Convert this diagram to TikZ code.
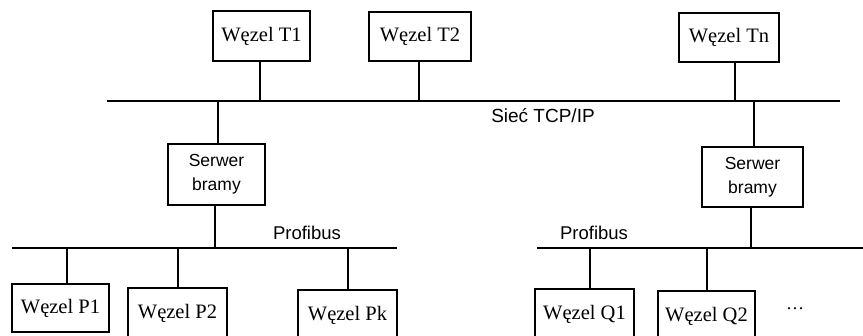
\documentclass[tikz,border=0pt]{standalone}
\usepackage{fontspec}
\setmainfont{Liberation Serif}
\newfontfamily\labelsans{Liberation Sans}
\begin{document}
\begin{tikzpicture}[x=1pt,y=-1pt,
  nodebox/.style={draw,line width=1.6pt,inner sep=0pt,font=\fontsize{20.5}{22}\selectfont},
  srvbox/.style={draw,line width=1.6pt,inner sep=0pt,align=center,font=\labelsans\fontsize{17.5}{24}\selectfont},
  busline/.style={line width=1.6pt},
  link/.style={line width=1.6pt},
  buslabel/.style={font=\labelsans\fontsize{18.5}{20}\selectfont,inner sep=0pt}]
\useasboundingbox (0,0) rectangle (863,336);
\begin{scope}
\clip (0,0) rectangle (863,336);
% top nodes
\node[nodebox,minimum width=97pt,minimum height=50pt] (T1) at (261.5,36) {Węzel T1};
\node[nodebox,minimum width=102pt,minimum height=49pt] (T2) at (420,36.5) {Węzel T2};
\node[nodebox,minimum width=100pt,minimum height=49pt] (Tn) at (729,37.5) {Węzel Tn};
% servers
\node[srvbox,minimum width=97pt,minimum height=61pt] (SL) at (216.5,174.5) {Serwer\\bramy};
\node[srvbox,minimum width=101pt,minimum height=60pt] (SR) at (752.5,177) {Serwer\\bramy};
% bottom nodes
\node[nodebox,minimum width=97pt,minimum height=48pt] (P1) at (60.5,308) {Węzel P1};
\node[nodebox,minimum width=99pt,minimum height=50pt] (P2) at (177.5,313) {Węzel P2};
\node[nodebox,minimum width=99pt,minimum height=50pt] (Pk) at (347.5,315) {Węzel Pk};
\node[nodebox,minimum width=99pt,minimum height=50pt] (Q1) at (584.5,314) {Węzel Q1};
\node[nodebox,minimum width=97pt,minimum height=50pt] (Q2) at (706.5,316) {Węzel Q2};
\node[inner sep=0pt,font=\fontsize{18}{18}\selectfont] (dots) at (795,309) {\dots};
% buses
\coordinate (tcpA) at (107,101);
\coordinate (tcpB) at (840,101);
\draw[busline] (tcpA) -- (tcpB);
\coordinate (pbLA) at (12,248);
\coordinate (pbLB) at (397,248);
\draw[busline] (pbLA) -- (pbLB);
\coordinate (pbRA) at (537,248);
\coordinate (pbRB) at (866,248);
\draw[busline] (pbRA) -- (pbRB);
% labels
\node[buslabel,font=\labelsans\fontsize{19}{20}\selectfont] (tcplabel) at (543,116) {Sieć TCP/IP};
\node[buslabel] (pbLlabel) at (307,233) {Profibus};
\node[buslabel] (pbRlabel) at (594,233) {Profibus};
% taps on TCP
\coordinate (tT1) at (260,101);
\coordinate (tT2) at (419,101);
\coordinate (tTn) at (735,101);
\coordinate (tSL) at (218,101);
\coordinate (tSR) at (754,101);
\draw[link] (tT1) -- (tT1 |- T1.south);
\draw[link] (tT2) -- (tT2 |- T2.south);
\draw[link] (tTn) -- (tTn |- Tn.south);
\draw[link] (tSL) -- (tSL |- SL.north);
\draw[link] (tSR) -- (tSR |- SR.north);
% taps on Profibus
\coordinate (bSL) at (215,248);
\coordinate (bSR) at (751,248);
\coordinate (bP1) at (67,248);
\coordinate (bP2) at (178,248);
\coordinate (bPk) at (348,248);
\coordinate (bQ1) at (590,248);
\coordinate (bQ2) at (707,248);
\draw[link] (bSL) -- (bSL |- SL.south);
\draw[link] (bSR) -- (bSR |- SR.south);
\draw[link] (bP1) -- (bP1 |- P1.north);
\draw[link] (bP2) -- (bP2 |- P2.north);
\draw[link] (bPk) -- (bPk |- Pk.north);
\draw[link] (bQ1) -- (bQ1 |- Q1.north);
\draw[link] (bQ2) -- (bQ2 |- Q2.north);
\end{scope}
\end{tikzpicture}
\end{document}
